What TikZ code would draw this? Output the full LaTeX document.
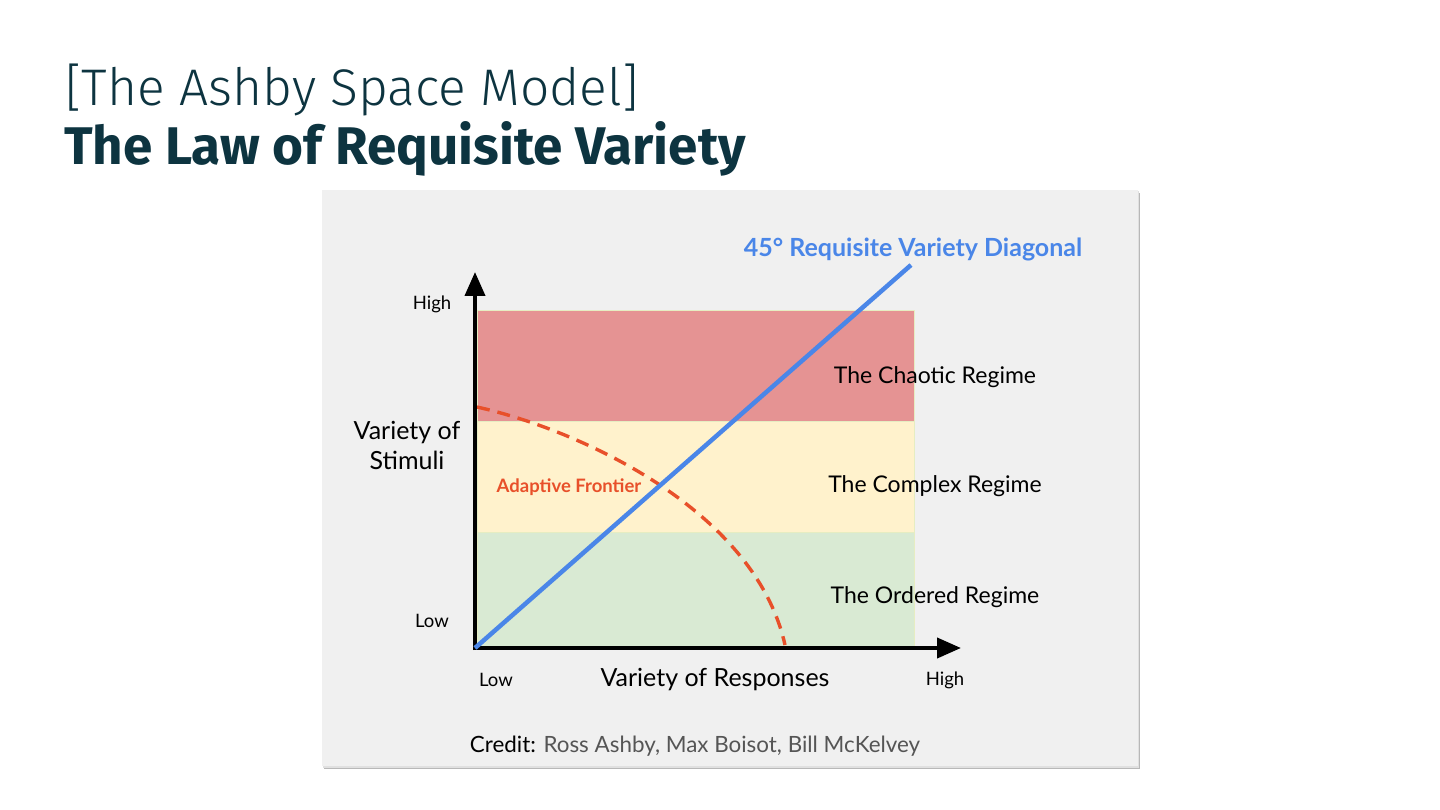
\documentclass[tikz,border=0pt]{standalone}
\usepackage{fontspec}
\setmainfont{Lato}
\newfontfamily\titlefont{Fira Sans}
\newfontfamily\titlelight{Fira Sans Light}
\usetikzlibrary{arrows.meta}
\definecolor{titleblue}{HTML}{0D3440}
\definecolor{panelgray}{HTML}{F0F0F0}
\definecolor{chaosred}{HTML}{E59393}
\definecolor{complexyellow}{HTML}{FFF2CC}
\definecolor{ordergreen}{HTML}{D9EAD3}
\definecolor{bandedge}{HTML}{E6EDC2}
\definecolor{diagblue}{HTML}{4A86E8}
\definecolor{frontred}{HTML}{E8502A}
\definecolor{creditgray}{HTML}{555555}
\tikzset{
  fs/.style={font=\fontsize{#1}{#1}\selectfont},
  band/.style={draw=bandedge, line width=1pt},
  axis/.style={line width=4pt, -{Triangle[length=24pt,width=20pt]}},
  lbl/.style={inner sep=0pt, anchor=center},
}
\begin{document}
\begin{tikzpicture}[x=1pt,y=-1pt]
\useasboundingbox (0,0) rectangle (1440,810);
\fill[white] (0,0) rectangle (1440,810);
% titles
\node[anchor=base west, inner sep=0pt, text=titleblue, font=\titlelight\fontsize{51.5}{51.5}\selectfont] (t1) at (65,106) {[The Ashby Space Model]};
\node[anchor=base west, inner sep=0pt, text=titleblue, font=\titlefont\bfseries\fontsize{53}{53}\selectfont] (t2) at (64,165) {The Law of Requisite Variety};
% panel with shadow
\fill[black!28] (324,193) rectangle (1140,769);
\fill[black!12] (323,191) rectangle (1139,768);
\fill[panelgray] (322,190) rectangle (1138,766);
% bands
\fill[chaosred] (477,310) rectangle (914,421);
\fill[complexyellow] (477,421) rectangle (914,532);
\fill[ordergreen] (477,532) rectangle (914,646);
\draw[band] (477,310) rectangle (914,646);
\draw[band] (477,421) -- (914,421);
\draw[band] (477,532) -- (914,532);
% frontier
\coordinate (fs) at (477,407);
\coordinate (fe) at (785,645);
\draw[frontred, line width=3.4pt, dash pattern=on 13pt off 8pt] (fs) .. controls (580,430) and (755,510) .. (fe);
% axes
\coordinate (o) at (475,648);
\coordinate (ytip) at (475,272);
\coordinate (xtip) at (961,648);
\draw[axis] ([yshift=-2pt]o) -- (ytip);
\draw[axis] ([xshift=-2pt]o) -- (xtip);
% diagonal
\coordinate (dend) at (911,265);
\draw[diagblue, line width=4.5pt] (o) -- (dend);
% labels
\node[lbl, text=diagblue, font=\bfseries\fontsize{25}{25}\selectfont] (dl) at (913,249) {45° Requisite Variety Diagonal};
\node[lbl, fs=18.5] (yh) at (432,304) {High};
\node[lbl, fs=18.5] (yl) at (432,621) {Low};
\node[lbl, align=center, font=\fontsize{25}{30}\selectfont] (yt) at (407,445) {Variety of\\Stimuli};
\node[lbl, text=frontred, font=\bfseries\fontsize{18.5}{18.5}\selectfont] (af) at (569,487) {Adaptive Frontier};
\node[lbl, fs=23] (r1) at (935,377) {The Chaotic Regime};
\node[lbl, fs=23] (r2) at (935,486) {The Complex Regime};
\node[lbl, fs=23] (r3) at (935,597) {The Ordered Regime};
\node[lbl, fs=18.5] (xl) at (496,680) {Low};
\node[lbl, fs=25] (xt) at (715,680) {Variety of Responses};
\node[lbl, fs=18.5] (xh) at (945,680) {High};
\node[lbl, fs=22.4] (cr) at (695,746) {Credit: \textcolor{creditgray}{Ross Ashby, Max Boisot, Bill McKelvey}};
\end{tikzpicture}
\end{document}
